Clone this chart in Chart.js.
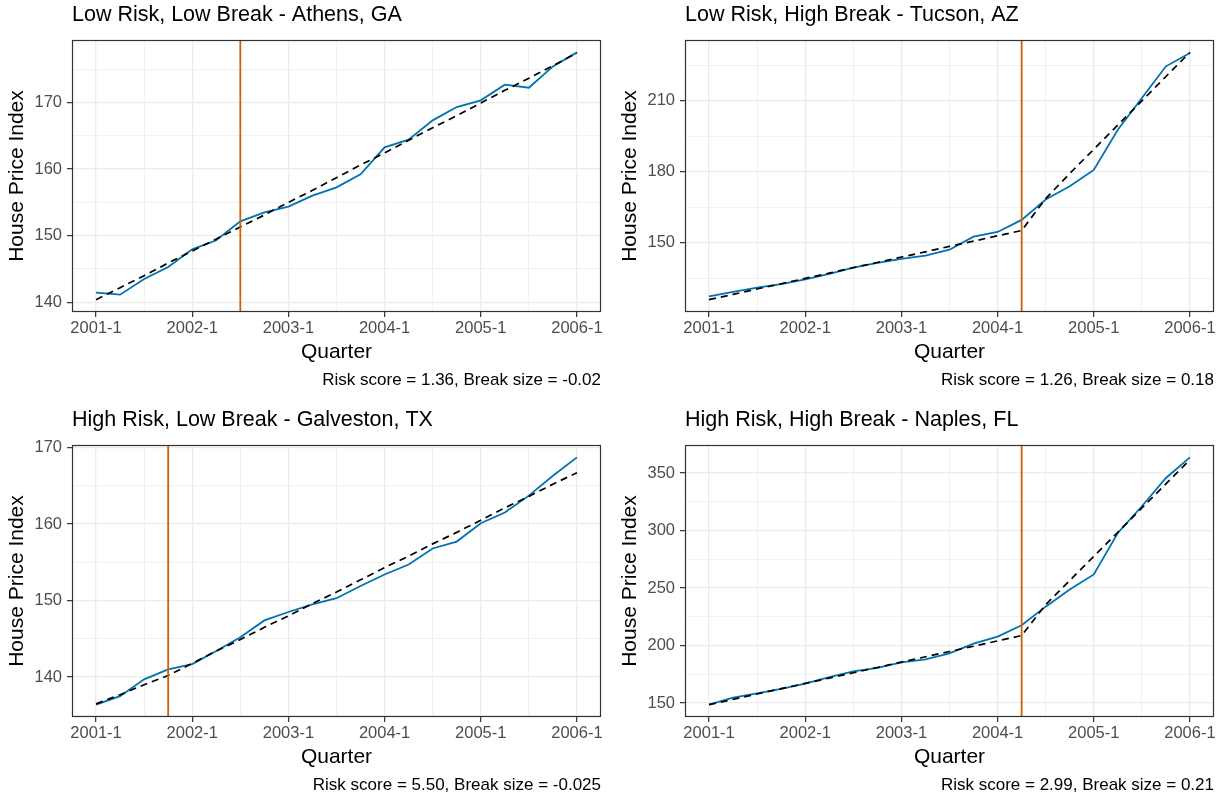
<!DOCTYPE html>
<html><head><meta charset="utf-8">
<script src="https://cdn.jsdelivr.net/npm/chart.js@4.4.1/dist/chart.umd.min.js"></script>
<style>
html,body{margin:0;padding:0;background:#fff;width:1225px;height:799px;overflow:hidden}
.panel{position:absolute;width:612px;height:394px}
canvas{display:block}
</style></head><body>
<div class="panel" style="left:0;top:0"><canvas id="c0" width="612" height="394"></canvas></div>
<div class="panel" style="left:613px;top:0"><canvas id="c1" width="612" height="394"></canvas></div>
<div class="panel" style="left:0;top:405px"><canvas id="c2" width="612" height="394"></canvas></div>
<div class="panel" style="left:613px;top:405px"><canvas id="c3" width="612" height="394"></canvas></div>
<script>
const quarters = ["2001-1","2001-2","2001-3","2001-4","2002-1","2002-2","2002-3","2002-4",
  "2003-1","2003-2","2003-3","2003-4","2004-1","2004-2","2004-3","2004-4",
  "2005-1","2005-2","2005-3","2005-4","2006-1"];
const xMajorIdx = [0,4,8,12,16,20];
const xMinorIdx = [2,6,10,14,18];

const panelTitles = ["Low Risk, Low Break - Athens, GA","Low Risk, High Break - Tucson, AZ",
  "High Risk, Low Break - Galveston, TX","High Risk, High Break - Naples, FL"];
const captions = ["Risk score = 1.36, Break size = -0.02","Risk score = 1.26, Break size = 0.18",
  "Risk score = 5.50, Break size = -0.025","Risk score = 2.99, Break size = 0.21"];

const athensHPI = [141.45,141.15,143.5,145.3,147.95,149.3,152.15,153.5,154.35,156.0,157.25,159.2,163.25,164.4,167.3,169.3,170.3,172.65,172.2,175.4,177.5];
const athensFit = [140.4,142.2,144.0,145.9,147.7,149.5,151.3,153.1,155.0,156.8,158.7,160.6,162.4,164.3,166.2,168.0,169.9,171.8,173.6,175.5,177.4];
const tucsonHPI = [127.3,129.2,131.0,132.5,134.5,136.8,139.4,141.4,143.1,144.5,147.0,152.5,154.5,159.6,168.2,173.8,180.7,197.7,211.1,224.5,230.1];
const tucsonFit = [125.9,128.1,130.4,132.6,134.9,137.1,139.4,141.6,143.9,146.1,148.4,150.6,152.9,155.1,168.6,179.2,189.4,199.7,209.9,220.2,230.4];
const galvestonHPI = [136.4,137.5,139.7,141.0,141.7,143.4,145.2,147.4,148.5,149.5,150.3,151.9,153.4,154.7,156.8,157.7,160.1,161.5,163.7,166.3,168.7];
const galvestonFit = [136.5,137.7,139.0,140.2,141.8,143.4,144.9,146.5,148.0,149.6,151.1,152.7,154.3,155.8,157.4,158.9,160.5,162.1,163.6,165.2,166.7];
const naplesHPI = [148.6,154.6,158.4,162.4,166.8,172.5,177.5,180.6,185.3,187.9,193.1,201.7,207.8,217.6,233.8,248.8,261.8,297.9,321.1,345.7,363.6];
const naplesFit = [148.6,153.2,157.9,162.5,167.1,171.7,176.3,180.9,185.6,190.2,194.8,199.4,204.0,208.7,235.5,256.5,277.5,298.5,319.6,340.6,361.6];

const breakIdx = [6,13,3,13];
const yMajor = [[140,150,160,170],[150,180,210],[140,150,160,170],[150,200,250,300,350]];
const yMinor = [[145,155,165,175],[135,165,195,225],[135,145,155,165],[175,225,275,325]];

const F = "'Liberation Sans', Arial, Helvetica, sans-serif";
const GRID = '#ebebeb';
const DARK = '#333333';

const borderPlugin = {
  id: 'panelBorder',
  afterDatasetsDraw(chart) {
    const {ctx, chartArea: a} = chart;
    const l = Math.round(a.left) + 0.5, t = Math.round(a.top) + 0.5;
    const r = Math.round(a.right) - 0.5, b = Math.round(a.bottom) - 0.5;
    ctx.save();
    ctx.strokeStyle = DARK;
    ctx.lineWidth = 1.2;
    ctx.strokeRect(l, t, r - l, b - t);
    ctx.restore();
  }
};

function makeChart(id, title, caption, hpi, fit, brk, yMaj, yMin) {
  const all = hpi.concat(fit);
  const lo = Math.min(...all), hi = Math.max(...all), pad = (hi - lo) * 0.05;
  const yLo = lo - pad, yHi = hi + pad;
  const xTicks = xMajorIdx.concat(xMinorIdx).sort((a,b)=>a-b);
  const yTicks = yMaj.concat(yMin).filter(v => v >= yLo && v <= yHi).sort((a,b)=>a-b);
  const isMajX = v => xMajorIdx.includes(v);
  const isMajY = v => yMaj.includes(v);
  new Chart(document.getElementById(id), {
    type: 'line',
    data: {
      datasets: [
        {label: 'break', data: [{x: brk, y: yLo}, {x: brk, y: yHi}], borderColor: '#D55E00', borderWidth: 1.8, pointRadius: 0},
        {label: 'fit', data: fit.map((v, i) => ({x: i, y: v})), borderColor: '#000000', borderDash: [7, 5], borderWidth: 1.7, pointRadius: 0},
        {label: 'hpi', data: hpi.map((v, i) => ({x: i, y: v})), borderColor: '#0072B2', borderWidth: 1.8, pointRadius: 0}
      ]
    },
    options: {
      responsive: false, animation: false, devicePixelRatio: 1,
      events: [],
      elements: {line: {tension: 0}},
      layout: {padding: {left: 0, right: 11, top: 0, bottom: 0}},
      plugins: {
        legend: {display: false}, tooltip: {enabled: false},
        title: {display: true, text: title, align: 'start', fullSize: false, color: '#000',
          font: {family: F, size: 21.5, weight: 'normal'}, padding: {top: 2, bottom: 12.2}},
        subtitle: {display: true, text: caption, position: 'bottom', align: 'end', fullSize: false, color: '#000',
          font: {family: F, size: 17, weight: 'normal'}, padding: {top: 2.8, bottom: 3.8}}
      },
      scales: {
        x: {
          type: 'linear', min: -1, max: 21,
          afterBuildTicks: s => { s.ticks = xTicks.map(v => ({value: v})); },
          afterFit: s => { s.height = 55; },
          ticks: {autoSkip: false, maxRotation: 0, minRotation: 0, padding: 2, color: '#4d4d4d',
            font: {family: F, size: 16.5}, callback: v => isMajX(v) ? quarters[v] : ''},
          grid: {color: c => GRID, lineWidth: c => isMajX(c.tick.value) ? 1.3 : 0.7,
            tickLength: 5, tickWidth: 1.2, tickColor: c => isMajX(c.tick.value) ? DARK : 'rgba(0,0,0,0)'},
          border: {display: false},
          title: {display: true, text: 'Quarter', color: '#000', font: {family: F, size: 21}, padding: {top: 0, bottom: 2.4}}
        },
        y: {
          type: 'linear', min: yLo, max: yHi,
          afterBuildTicks: s => { s.ticks = yTicks.map(v => ({value: v})); },
          afterFit: s => { s.width = 72; },
          ticks: {padding: 5, color: '#4d4d4d', font: {family: F, size: 16.5}, callback: v => isMajY(v) ? String(v) : ''},
          grid: {color: c => GRID, lineWidth: c => isMajY(c.tick.value) ? 1.3 : 0.7,
            tickLength: 5, tickWidth: 1.2, tickColor: c => isMajY(c.tick.value) ? DARK : 'rgba(0,0,0,0)'},
          border: {display: false},
          title: {display: true, text: 'House Price Index', color: '#000', font: {family: F, size: 21}, padding: {top: 4.4, bottom: 0}}
        }
      }
    },
    plugins: [borderPlugin]
  });
}

makeChart('c0', panelTitles[0], captions[0], athensHPI, athensFit, breakIdx[0], yMajor[0], yMinor[0]);
makeChart('c1', panelTitles[1], captions[1], tucsonHPI, tucsonFit, breakIdx[1], yMajor[1], yMinor[1]);
makeChart('c2', panelTitles[2], captions[2], galvestonHPI, galvestonFit, breakIdx[2], yMajor[2], yMinor[2]);
makeChart('c3', panelTitles[3], captions[3], naplesHPI, naplesFit, breakIdx[3], yMajor[3], yMinor[3]);
</script>
</body></html>
